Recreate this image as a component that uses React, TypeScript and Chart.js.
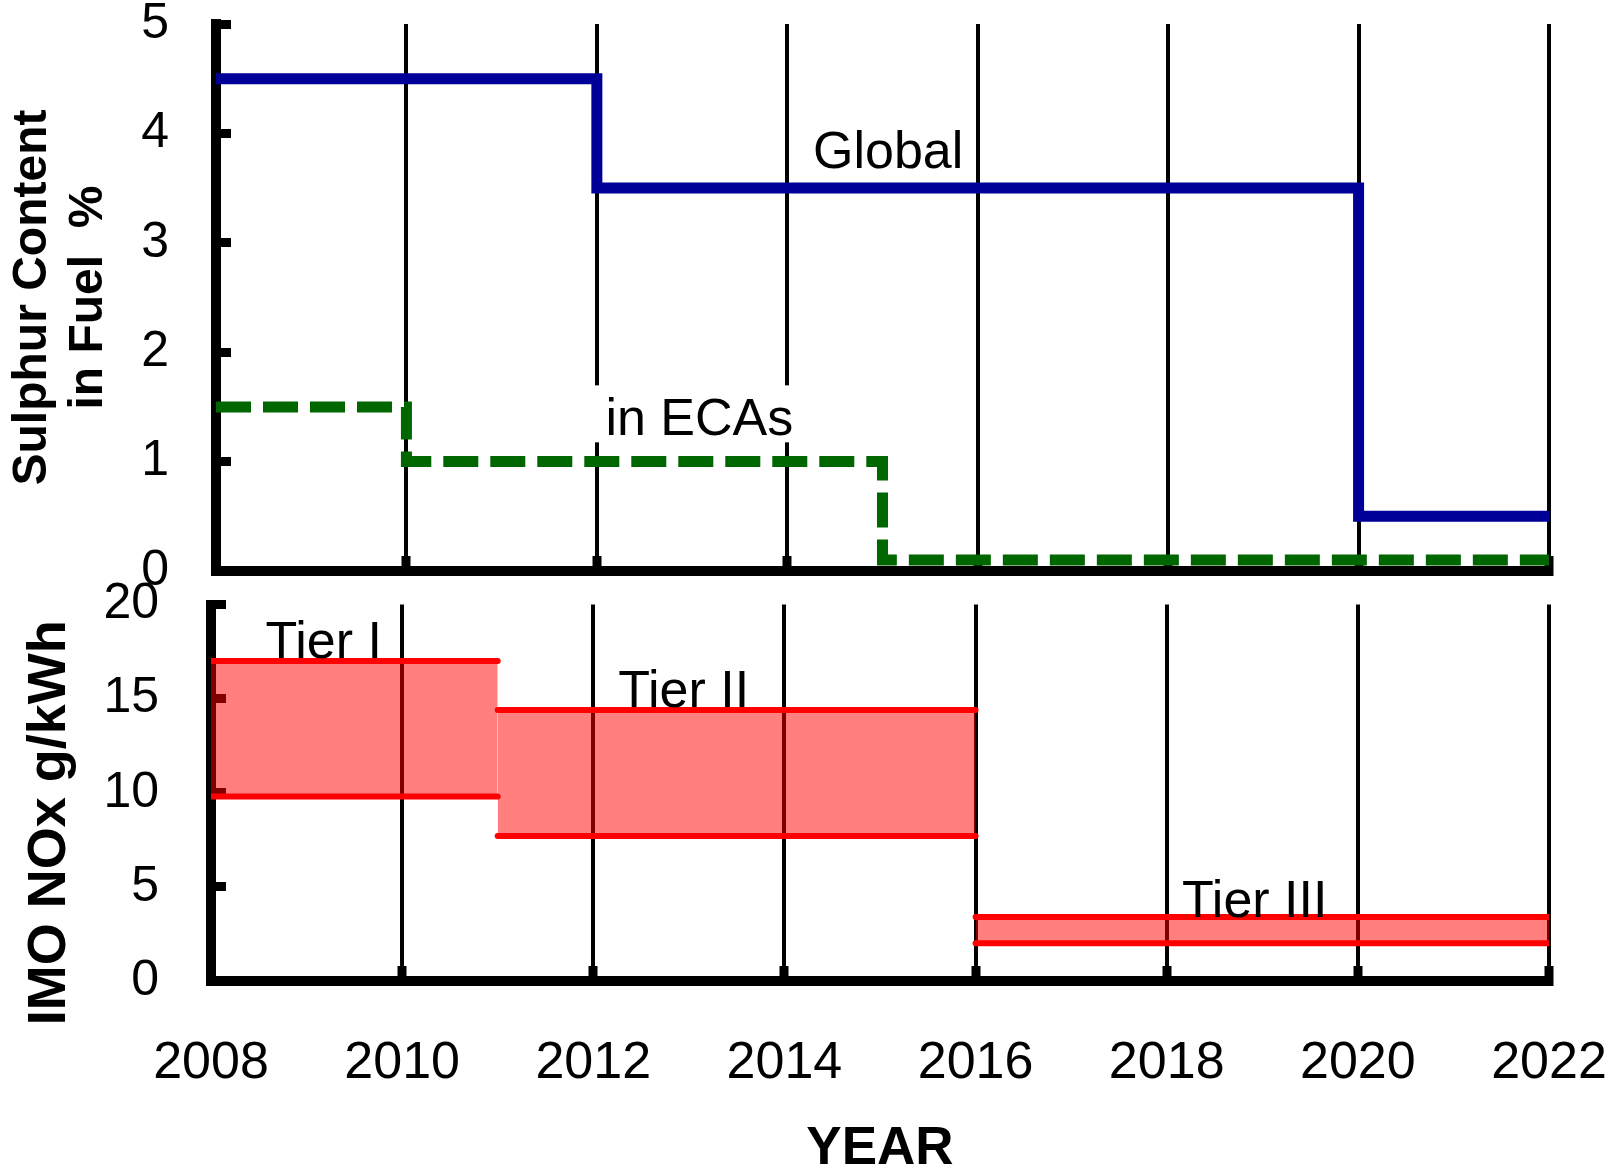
import React, { useEffect, useRef } from 'react';
import { Chart, registerables } from 'chart.js';

Chart.register(...registerables);

const FONT = "'Liberation Sans', Arial, Helvetica, sans-serif";

// X axis (years)
const yearTicks = [2008, 2010, 2012, 2014, 2016, 2018, 2020, 2022];
const yearLabels = ['2008', '2010', '2012', '2014', '2016', '2018', '2020', '2022'];

// Top panel: sulphur content in fuel (%)
const sulphurTicks = [0, 1, 2, 3, 4, 5];
const sulphurTickLabels = ['0', '1', '2', '3', '4', '5'];
const globalYears = [2008, 2012, 2020, 2022];
const globalSulphur = [4.5, 3.5, 0.5, 0.5];
const ecaYears = [2008, 2010, 2015, 2022];
const ecaSulphur = [1.5, 1.0, 0.1, 0.1];

// Bottom panel: IMO NOx limits (g/kWh)
const noxTicks = [0, 5, 10, 15, 20];
const noxTickLabels = ['0', '5', '10', '15', '20'];
const tierNames = ['Tier I', 'Tier II', 'Tier III'];
const tierStart = [2008, 2011, 2016];
const tierEnd = [2011, 2016, 2022];
const tierMax = [17.0, 14.4, 3.4];
const tierMin = [9.8, 7.7, 2.0];

// Text annotations (anchored in data coordinates)
const sulphurNotes = [
  { text: 'Global', x: 2014.27, y: 3.68, box: false },
  { text: 'in ECAs', x: 2012.09, y: 1.24, box: true },
];
const noxNoteX = [2008.57, 2012.26, 2018.16];
const noxNoteY = [17.18, 14.57, 3.4];

type Note = { text: string; x: number; y: number; box?: boolean };

function makeNotesPlugin(notes: Note[]) {
  return {
    id: 'notes',
    beforeDatasetsDraw(chart: any) {
      const { ctx, scales } = chart;
      ctx.save();
      ctx.font = `52px ${FONT}`;
      for (const n of notes) {
        if (!n.box) continue;
        const px = scales.x.getPixelForValue(n.x);
        const py = scales.y.getPixelForValue(n.y);
        const w = ctx.measureText(n.text).width;
        ctx.fillStyle = '#ffffff';
        ctx.fillRect(px - 14, py - 50, w + 20, 57);
      }
      ctx.restore();
    },
    afterDatasetsDraw(chart: any) {
      const { ctx, scales } = chart;
      ctx.save();
      ctx.font = `52px ${FONT}`;
      ctx.fillStyle = '#000000';
      ctx.textAlign = 'left';
      ctx.textBaseline = 'alphabetic';
      for (const n of notes) {
        const px = scales.x.getPixelForValue(n.x);
        const py = scales.y.getPixelForValue(n.y);
        ctx.fillText(n.text, px, py);
      }
      ctx.restore();
    },
  };
}

function zeroPadding(s: any) {
  s.paddingTop = 0;
  s.paddingBottom = 0;
  s.paddingLeft = 0;
  s.paddingRight = 0;
}

function xScale(showLabels: boolean, height: number) {
  return {
    type: 'linear',
    min: 2008,
    max: 2022,
    afterBuildTicks: (s: any) => {
      s.ticks = yearTicks.map((v) => ({ value: v }));
    },
    afterFit: (s: any) => {
      s.height = height;
      zeroPadding(s);
    },
    ticks: {
      display: showLabels,
      color: '#000',
      padding: 66,
      maxRotation: 0,
      autoSkip: false,
      font: { family: FONT, size: 52, lineHeight: 1.2 },
      callback: (v: number) => yearLabels[yearTicks.indexOf(v)] ?? '',
    },
    grid: {
      color: '#000',
      lineWidth: 4,
      drawOnChartArea: true,
      drawTicks: true,
      tickLength: -15,
      tickWidth: 9,
      tickColor: '#000',
    },
    border: { display: true, color: '#000', width: 10 },
    title: showLabels
      ? {
          display: true,
          text: 'YEAR',
          color: '#000',
          font: { family: FONT, size: 53, weight: 'bold', lineHeight: 0.85 },
          padding: { top: 0, bottom: 0 },
        }
      : { display: false },
  };
}

function yScale(
  max: number,
  ticks: number[],
  labels: string[],
  width: number,
  padding: number,
  title: any
) {
  return {
    type: 'linear',
    min: 0,
    max,
    afterBuildTicks: (s: any) => {
      s.ticks = ticks.map((v) => ({ value: v }));
    },
    afterFit: (s: any) => {
      s.width = width;
      zeroPadding(s);
    },
    ticks: {
      color: '#000',
      padding,
      font: { family: FONT, size: 50, lineHeight: 1.2 },
      callback: (v: number) => labels[ticks.indexOf(v)] ?? '',
    },
    grid: {
      drawOnChartArea: false,
      drawTicks: true,
      tickLength: -15,
      tickWidth: 9,
      tickColor: '#000',
      lineWidth: 1,
    },
    border: { display: true, color: '#000', width: 10 },
    title,
  };
}

export default function App() {
  const topRef = useRef<HTMLCanvasElement>(null);
  const botRef = useRef<HTMLCanvasElement>(null);

  useEffect(() => {
    const common = {
      responsive: false,
      animation: false,
      events: [],
      plugins: { legend: { display: false }, tooltip: { enabled: false } },
    };

    const top = new Chart(topRef.current as HTMLCanvasElement, {
      type: 'line',
      data: {
        datasets: [
          {
            label: 'Global',
            data: globalYears.map((x, i) => ({ x, y: globalSulphur[i] })),
            stepped: 'before',
            borderColor: '#000099',
            borderWidth: 11,
            borderCapStyle: 'butt',
            borderJoinStyle: 'miter',
            pointRadius: 0,
            fill: false,
          },
          {
            label: 'in ECAs',
            data: ecaYears.map((x, i) => ({ x, y: ecaSulphur[i] })),
            stepped: 'before',
            borderColor: '#006600',
            borderWidth: 11,
            borderDash: [35, 12],
            borderCapStyle: 'butt',
            borderJoinStyle: 'miter',
            pointRadius: 0,
            fill: false,
          },
        ],
      },
      options: {
        ...common,
        layout: { autoPadding: false, padding: { top: 24, right: 71, left: 0, bottom: 0 } },
        scales: {
          x: xScale(false, 29),
          y: yScale(5, sulphurTicks, sulphurTickLabels, 216, 62, {
            display: true,
            text: ['Sulphur Content', 'in Fuel  %'],
            color: '#000',
            font: { family: FONT, size: 48, weight: 'bold', lineHeight: 56 / 48 },
            padding: { top: 5, bottom: 0 },
          }),
        },
      } as any,
      plugins: [makeNotesPlugin(sulphurNotes)],
    } as any);

    const tierSets: any[] = [];
    tierNames.forEach((name, i) => {
      tierSets.push({
        label: name + ' max',
        data: [
          { x: tierStart[i], y: tierMax[i] },
          { x: tierEnd[i], y: tierMax[i] },
        ],
        borderColor: '#ff0000',
        borderWidth: 6,
        borderCapStyle: 'round',
        backgroundColor: 'rgba(255,0,0,0.5)',
        fill: '+1',
        pointRadius: 0,
      });
      tierSets.push({
        label: name + ' min',
        data: [
          { x: tierStart[i], y: tierMin[i] },
          { x: tierEnd[i], y: tierMin[i] },
        ],
        borderColor: '#ff0000',
        borderWidth: 6,
        borderCapStyle: 'round',
        fill: false,
        pointRadius: 0,
      });
    });

    const noxNotes: Note[] = tierNames.map((t, i) => ({ text: t, x: noxNoteX[i], y: noxNoteY[i] }));

    const bot = new Chart(botRef.current as HTMLCanvasElement, {
      type: 'line',
      data: { datasets: tierSets },
      options: {
        ...common,
        layout: { autoPadding: false, padding: { top: 44.5, right: 71, left: 0, bottom: 0 } },
        scales: {
          x: xScale(true, 191),
          y: yScale(20, noxTicks, noxTickLabels, 211, 67, {
            display: true,
            text: 'IMO NOx g/kWh    ',
            color: '#000',
            font: { family: FONT, size: 54, weight: 'bold', lineHeight: 1.2 },
            padding: { top: 17.6, bottom: 0 },
          }),
        },
      } as any,
      plugins: [makeNotesPlugin(noxNotes)],
    } as any);

    return () => {
      top.destroy();
      bot.destroy();
    };
  }, []);

  return (
    <div
      style={{
        position: 'absolute',
        left: 0,
        top: 0,
        width: 1620,
        height: 1172,
        background: '#ffffff',
        overflow: 'hidden',
      }}
    >
      <canvas
        ref={topRef}
        width={1620}
        height={600}
        style={{ position: 'absolute', left: 0, top: 0, width: 1620, height: 600 }}
      />
      <canvas
        ref={botRef}
        width={1620}
        height={612}
        style={{ position: 'absolute', left: 0, top: 560, width: 1620, height: 612 }}
      />
    </div>
  );
}
